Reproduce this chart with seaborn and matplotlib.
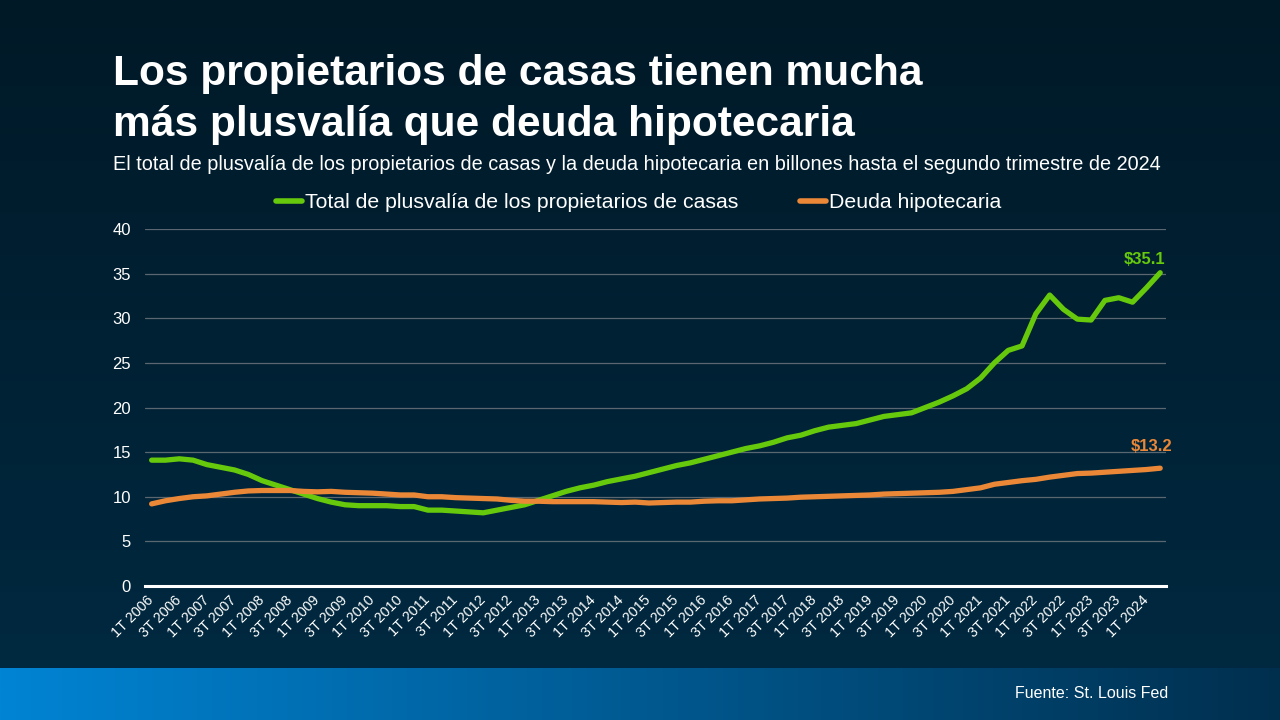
import numpy as np
import pandas as pd
import matplotlib
matplotlib.use("Agg")
import matplotlib.pyplot as plt
import matplotlib.transforms as mtransforms
import seaborn as sns
from matplotlib.lines import Line2D

# ---- data ----
quarters = [f"{q}T {y}" for y in range(2006, 2025) for q in range(1, 5)][:74]
equity = [14.1, 14.1, 14.25, 14.1, 13.6, 13.3, 13.0, 12.5, 11.8, 11.3, 10.8, 10.3,
          9.8, 9.4, 9.1, 9.0, 9.0, 9.0, 8.9, 8.9, 8.5, 8.5, 8.4, 8.3,
          8.2, 8.5, 8.8, 9.1, 9.6, 10.1, 10.6, 11.0, 11.3, 11.7, 12.0, 12.3,
          12.7, 13.1, 13.5, 13.8, 14.2, 14.6, 15.0, 15.4, 15.7, 16.1, 16.6, 16.9,
          17.4, 17.8, 18.0, 18.2, 18.6, 19.0, 19.2, 19.4, 20.0, 20.6, 21.3, 22.1,
          23.3, 25.0, 26.4, 26.9, 30.5, 32.6, 31.0, 29.9, 29.8, 32.0, 32.3, 31.8,
          33.4, 35.1]
debt = [9.2, 9.55, 9.8, 10.0, 10.1, 10.3, 10.5, 10.65, 10.7, 10.7, 10.7, 10.6,
        10.55, 10.6, 10.5, 10.45, 10.4, 10.3, 10.2, 10.2, 10.0, 10.0, 9.9, 9.85,
        9.8, 9.75, 9.6, 9.5, 9.5, 9.45, 9.45, 9.45, 9.45, 9.4, 9.35, 9.4,
        9.3, 9.35, 9.4, 9.4, 9.5, 9.55, 9.55, 9.65, 9.75, 9.8, 9.85, 9.95,
        10.0, 10.05, 10.1, 10.15, 10.2, 10.3, 10.35, 10.4, 10.45, 10.5, 10.6, 10.8,
        11.0, 11.4, 11.6, 11.8, 11.95, 12.2, 12.4, 12.6, 12.65, 12.75, 12.85, 12.95,
        13.05, 13.2]
series_names = ["Total de plusvalía de los propietarios de casas", "Deuda hipotecaria"]
tick_labels = quarters[::2]

GREEN = "#66c90c"
ORANGE = "#ea8838"

df = pd.DataFrame({
    "idx": list(range(len(equity))) * 2,
    "valor": equity + debt,
    "serie": [series_names[0]] * len(equity) + [series_names[1]] * len(debt),
})

sns.set_theme(style="white")
plt.rcParams['font.family'] = ['Liberation Sans', 'DejaVu Sans']

W, H = 1280, 720
fig = plt.figure(figsize=(12.8, 7.2), dpi=100)

# background gradient
bg = fig.add_axes([0, 0, 1, 1], zorder=-10)
grad = np.linspace(0, 1, 256).reshape(-1, 1)
top = np.array([0x00, 0x19, 0x27]) / 255
bot = np.array([0x01, 0x2a, 0x42]) / 255
img = top[None, None, :] * (1 - grad[:, :, None]) + bot[None, None, :] * grad[:, :, None]
bg.imshow(img, aspect="auto", extent=[0, 1, 0, 1], origin="upper")
# bottom band
gx = np.linspace(0, 1, 512).reshape(1, -1)
left = np.array([0x00, 0x84, 0xd4]) / 255
right = np.array([0x00, 0x2f, 0x4e]) / 255
band = left[None, None, :] * (1 - gx[:, :, None]) + right[None, None, :] * gx[:, :, None]
bg.imshow(band, aspect="auto", extent=[0, 1, 0, 52 / H], origin="upper")
bg.set_xlim(0, 1)
bg.set_ylim(0, 1)
bg.axis("off")

# main axes
x0, x1 = 145, 1166
y0, y1 = 586, 229
ax = fig.add_axes([x0 / W, 1 - y0 / H, (x1 - x0) / W, (y0 - y1) / H])
ax.set_facecolor("none")

sns.lineplot(data=df, x="idx", y="valor", hue="serie",
             palette=[GREEN, ORANGE], linewidth=3.8, ax=ax, legend=False,
             solid_capstyle="round")

ax.set_xlim(-0.48, 73.42)
ax.set_ylim(0, 40)
ax.set_yticks(range(0, 41, 5))
ax.yaxis.grid(True, color="#5a6670", linewidth=0.9)
ax.xaxis.grid(False)
ax.set_axisbelow(True)
for s in ["top", "right", "left"]:
    ax.spines[s].set_visible(False)
ax.spines["bottom"].set_color("white")
ax.spines["bottom"].set_linewidth(2.2)
ax.set_xlabel("")
ax.set_ylabel("")
ax.tick_params(axis="y", length=0, pad=10, labelsize=12, labelcolor="white")
ax.set_xticks(range(0, 74, 2))
ax.set_xticklabels(tick_labels, rotation=45, ha="right", va="top",
                   rotation_mode="anchor", fontsize=10.4, color="white")
ax.tick_params(axis="x", length=0, pad=5)
shift = mtransforms.ScaledTranslation(-5 / 100, 0, fig.dpi_scale_trans)
for lbl in ax.get_xticklabels():
    lbl.set_transform(lbl.get_transform() + shift)

# end labels
ax.annotate("$35.1", (73, equity[-1]), xytext=(-11.5, 4), textcoords="offset points",
            ha="center", va="bottom", color=GREEN, fontsize=12, fontweight="bold")
ax.annotate("$13.2", (73, debt[-1]), xytext=(-6, 10), textcoords="offset points",
            ha="center", va="bottom", color=ORANGE, fontsize=12, fontweight="bold")

# legend
handles = [Line2D([0], [0], color=GREEN, lw=4, solid_capstyle="round"),
           Line2D([0], [0], color=ORANGE, lw=4, solid_capstyle="round")]
fig.legend(handles, series_names, loc="center", bbox_to_anchor=(0.499, 1 - 203 / H),
           ncol=2, frameon=False, fontsize=15.3, labelcolor="white",
           handlelength=1.2, handletextpad=0.15, columnspacing=2.9)

# titles
fig.text(113 / W, 1 - 74 / H, "Los propietarios de casas tienen mucha",
         color="white", fontsize=30.6, fontweight="bold", va="center", ha="left")
fig.text(113 / W, 1 - 125 / H, "más plusvalía que deuda hipotecaria",
         color="white", fontsize=30.6, fontweight="bold", va="center", ha="left")
fig.text(113 / W, 1 - 164 / H,
         "El total de plusvalía de los propietarios de casas y la deuda hipotecaria en billones hasta el segundo trimestre de 2024",
         color="white", fontsize=14.3, va="center", ha="left")
fig.text(1168 / W, 1 - 694 / H, "Fuente: St. Louis Fed", color="white",
         fontsize=11.5, va="center", ha="right")

fig.savefig("out.png", dpi=100)
